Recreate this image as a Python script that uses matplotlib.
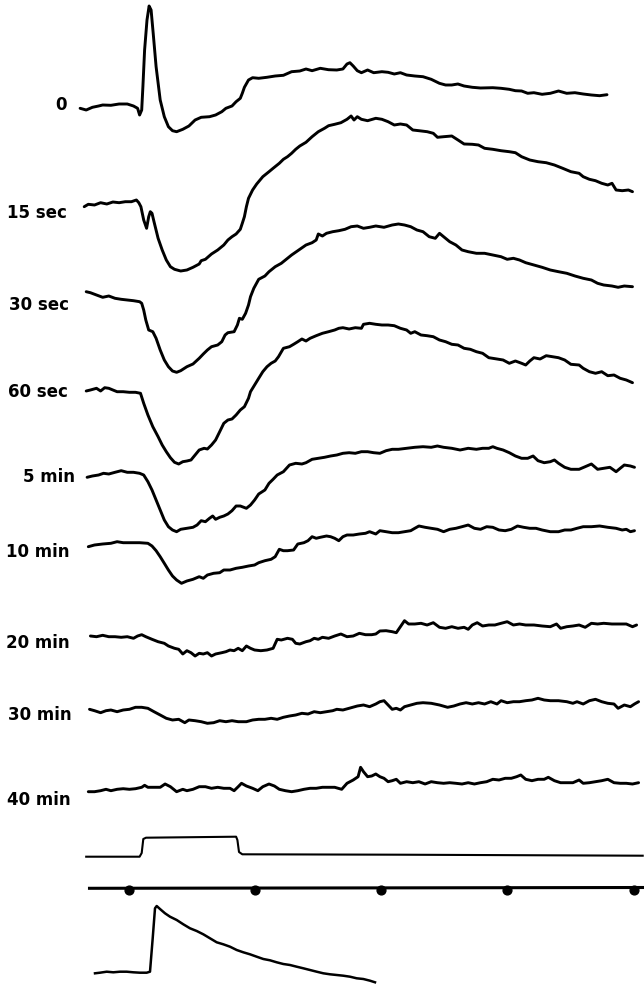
import numpy as np
import matplotlib
matplotlib.use('Agg')
import matplotlib.pyplot as plt

plt.rcParams.update({'font.size': 12})

# traces, x = time position, y = pen position (image px, down is +)
x_0 = [80.1, 86.2, 92.4, 98.6, 102.7, 110.9, 119.1, 127.3, 133.5, 137.6, 139.6, 141.7, 142.9, 144.6, 147, 149.1, 151.1,
       153.2, 156.1, 160.2, 164.3, 168.4, 172.5, 176.6, 182.8, 188.9, 195.1, 201.2, 209.5, 215.6, 221.8, 225.9, 232,
       236.1, 240.3, 242.3, 244.4, 248.5, 252.6, 258.7, 266.9, 275.2, 283.4, 291.6, 299.8, 306, 312.1, 320.3, 328.5,
       336.8, 342.9, 347, 349.9, 353.2, 357.3, 361.4, 367.6, 373.7, 381.9, 388.1, 394.3, 400.4, 406.6, 414.8, 423,
       431.2, 439.4, 445.6, 451.7, 457.9, 464.1, 472.3, 480.5, 492.8, 501, 509.2, 515.4, 521.6, 527.7, 533.9, 542.1,
       550.3, 558.5, 566.7, 574.9, 583.2, 591.4, 599.6, 607]
y_0 = [108.3, 110, 107.3, 106, 105, 105.3, 104, 104, 106, 108.3, 115, 110, 86.7, 50, 20, 6, 10,
       33.3, 66.7, 100, 116.7, 126.7, 130.7, 131.7, 129.3, 126, 120, 117.3, 116.7, 115, 111.7, 108.3, 106,
       101.7, 98.3, 93.3, 87.3, 80, 77.7, 78.3, 77.3, 76, 75.3, 71.7, 71, 69, 70.7, 68.3, 69.7,
       70, 69, 64, 62.7, 66, 70.7, 72.7, 70, 72.7, 71.7, 72.3, 74, 72.7, 75, 76, 76.7,
       79.3, 83.3, 85, 85, 84, 86, 87.3, 88, 87.7, 88.3, 89.3, 90.7, 91, 93.3, 92.7, 94.3,
       93.3, 91, 93.3, 92.7, 94, 95, 95.7, 94.7]

x_15s = [84.2, 88.3, 94.5, 100.6, 106.8, 112.9, 119.1, 125.3, 131.4, 136.4, 138.8, 140.9, 143.7, 146.6, 148.7, 150.3,
         152, 154, 158.1, 162.2, 166.3, 170.4, 174.5, 180.7, 186.9, 193, 199.2, 201.2, 205.4, 211.5, 217.7, 223.8,
         227.9, 232, 236.1, 240.3, 242.3, 244.4, 246.4, 248.5, 252.6, 256.7, 262.8, 269, 273.1, 279.3, 283.4, 287.5,
         291.6, 295.7, 299.8, 306, 312.1, 318.3, 324.5, 328.6, 334.7, 340.9, 347, 351.1, 354, 357.3, 361.4, 367.6,
         375.8, 381.9, 388.1, 394.3, 400.4, 406.6, 412.8, 418.9, 427.2, 433.3, 437.5, 443.7, 451.8, 458, 464.1, 472.3,
         478.5, 484.6, 492.8, 501, 509.3, 515.4, 521.6, 529.8, 538, 546.2, 554.4, 562.7, 570.9, 579.1, 583.2, 589.4,
         595.5, 601.7, 607.8, 612, 616.1, 622.2, 628.4, 632.5]
y_15s = [206.7, 204.3, 205, 202.7, 204, 202, 202.7, 201.7, 201.7, 200, 202.7, 206.7, 220, 228.3, 216.7, 211.7,
         213.3, 221.7, 238.3, 250, 260, 266.7, 269.3, 271, 270, 267.3, 264, 260.7, 259.3, 254, 250, 245,
         240, 236.7, 234, 229.3, 223.3, 216.7, 206.7, 198.3, 190, 184, 176.7, 171.7, 168.3, 163.3, 159.3, 156.7,
         153.3, 149.3, 146, 142.3, 136.7, 131.7, 128.3, 125.7, 124.3, 122.7, 119.3, 116, 120, 116.7, 119.3, 120.7,
         118.3, 119.3, 121.7, 125, 124, 125, 130, 130.7, 131.7, 133.3, 137.3, 136.7, 136, 140, 144, 144.3,
         145, 148.3, 149.3, 150.7, 151.7, 152.7, 156.7, 160, 161.7, 162.7, 165, 168.3, 171.7, 173.3, 176.7, 179.3,
         180.7, 183.3, 185, 183.3, 190, 190.7, 190, 191.7]

x_30s = [86.2, 90.4, 96.5, 102.7, 108.8, 115, 121.2, 127.3, 133.5, 139.6, 141.7, 143.7, 145.8, 148.7, 152.8, 156.1,
         160.2, 164.3, 168.4, 172.5, 176.6, 180.7, 186.9, 193, 199.2, 203.3, 207.4, 211.5, 217.7, 221.8, 225.1, 227.9,
         234.1, 237.4, 239.4, 242.3, 245.6, 248.5, 250.5, 253.8, 258.7, 264.9, 269, 275.2, 281.3, 285.4, 291.6, 297.8,
         306, 312.1, 316.2, 318.3, 322.4, 326.5, 332.7, 338.8, 345, 351.1, 357.3, 363.5, 369.6, 375.8, 384, 392.2,
         398.4, 404.5, 410.7, 416.9, 423, 429.2, 435.3, 439.5, 443.6, 449.7, 455.9, 462, 468.2, 476.4, 484.6, 492.8,
         501, 507.2, 513.4, 519.5, 525.7, 533.9, 542.1, 550.3, 558.5, 566.8, 575, 583.2, 591.4, 597.6, 603.7, 611.9,
         618.1, 624.3, 632.5]
y_30s = [291.7, 292.7, 295, 297.3, 296, 298.3, 299.3, 300, 300.7, 301.7, 303.3, 310, 320, 330, 331.7, 338.3,
         350, 360, 366.7, 371, 372.3, 370.7, 366.7, 364, 358.3, 354, 350, 346.7, 345, 341.7, 335, 332.7,
         331.7, 325, 318.3, 319.3, 313.3, 305, 296.7, 288.3, 279.3, 276, 271.7, 266.7, 263.3, 260, 255, 250.7,
         245, 242.7, 240, 234, 236, 233.3, 231.7, 230.7, 229.3, 226.7, 226, 228.3, 227.3, 226, 227.3, 225,
         224, 225, 226.7, 230, 231.7, 236.7, 238.3, 233.3, 236.7, 241.7, 245, 250, 251.7, 253.3, 253.3, 255,
         256.7, 259.3, 258.3, 260, 262.7, 265, 267.3, 270, 271.7, 273.3, 276, 278.3, 280, 283.3, 285, 286,
         287.3, 286, 286.7]

x_60s = [86.2, 90.4, 96.5, 100.6, 104.7, 108.8, 112.9, 117.1, 123.2, 129.4, 135.5, 140.5, 143.7, 147.9, 152.8, 158.1,
         162.2, 166.3, 170.4, 174.5, 178.7, 182.8, 186.9, 191, 195.1, 199.2, 204.1, 207.4, 211.5, 215.6, 219.7, 223.8,
         227.9, 232, 236.1, 240.3, 244.4, 248.5, 250.5, 254.6, 258.7, 262.8, 267, 271.1, 275.2, 278.5, 283.4, 289.5,
         293.6, 297.8, 301.9, 306, 310.1, 316.2, 322.4, 328.6, 334.7, 338.8, 342.9, 349.1, 355.3, 361.4, 363.5, 369.6,
         375.8, 381.9, 388.1, 394.3, 400.4, 406.6, 410.7, 414.8, 421, 427.1, 433.3, 439.5, 445.6, 451.8, 458, 464.1,
         470.3, 476.4, 482.6, 488.8, 497, 503.1, 509.3, 515.4, 521.6, 525.7, 529.8, 533.9, 540.1, 546.2, 552.4, 558.5,
         564.7, 570.9, 579.1, 583.2, 589.4, 595.5, 601.7, 607.8, 614, 620.2, 626.3, 632.5]
y_60s = [391, 390, 388.3, 391, 387.7, 388.3, 390, 391.7, 391.7, 392.3, 392.3, 393.3, 403.3, 415, 426.7, 436.7,
         445, 451.7, 457.7, 462.3, 464, 461.7, 461, 460, 455, 450, 448.3, 449, 445, 440, 431.7, 423.3,
         420, 419, 415, 410, 406.7, 398.3, 391.7, 385, 378.3, 371.7, 366.7, 363.3, 361, 356.7, 348.3, 346.7,
         344.3, 341.7, 339, 341, 338.3, 335.7, 333.3, 331.7, 330, 328.3, 327.7, 329, 327.7, 328.3, 324.3, 323.3,
         324.3, 325, 325, 325.7, 328.3, 330, 333.3, 331.7, 335, 335.7, 336.7, 340, 341.7, 344.3, 345, 348.3,
         349.3, 351.7, 353.3, 357.7, 359, 360, 363.3, 361, 363.3, 365, 361, 357.7, 359, 355.7, 356.7, 357.7,
         360, 364.3, 365, 368.3, 371.7, 373.3, 371.7, 375.7, 375, 378.3, 380, 382.7]

x_5m = [87.1, 92.4, 98.6, 103.5, 108.8, 115, 121.2, 127.3, 133.5, 139.6, 143.7, 147.9, 152, 156.1, 160.2, 164.3,
        168.4, 172.5, 176.6, 180.7, 186.9, 193, 197.1, 201.2, 205.4, 209.5, 212.7, 215.6, 219.7, 223.8, 227.9, 232,
        236.1, 240.3, 246.4, 250.5, 254.6, 258.7, 264.9, 269, 273.1, 277.2, 283.4, 289.5, 295.7, 301.9, 306, 312.1,
        318.3, 324.5, 330.6, 336.8, 342.9, 349.1, 355.3, 361.4, 367.6, 373.7, 379.9, 386.1, 392.2, 398.4, 406.6, 414.8,
        423, 431.2, 437.4, 443.6, 451.8, 460.1, 468.2, 476.4, 482.6, 488.8, 492.8, 496.9, 503.1, 509.3, 515.4, 521.6,
        527.7, 533.1, 538, 544.2, 550.3, 554.4, 558.5, 564.7, 570.9, 579.1, 585.2, 591.4, 597.6, 603.7, 609.9, 616.1,
        620.2, 624.3, 630.4, 634.5]
y_5m = [477.3, 476, 475, 473.3, 474, 472.3, 470.7, 472.3, 472.3, 473.3, 475, 481.7, 490, 500, 510, 520,
        526.7, 530, 531.7, 529.3, 528.3, 527.3, 525, 520.7, 521.7, 518.3, 516, 519.3, 517.3, 516, 514, 510.7,
        506, 506, 508.3, 505, 500, 494, 490, 483.3, 479.3, 475, 471.7, 465, 463.3, 464, 462.7, 459.3,
        458.3, 457.3, 456, 455, 453.3, 452.7, 453.3, 451.7, 451.7, 452.7, 453.3, 450.7, 449.3, 449.3, 448.3, 447.3,
        446.7, 447.3, 446, 447.3, 448.3, 450, 448.3, 449.3, 448.3, 448.3, 446.7, 448.3, 450, 452.7, 456, 458.3,
        458.3, 456, 460.7, 462.7, 461.7, 460, 463.3, 467.3, 469.3, 469.3, 466.7, 464, 469.3, 468.3, 467.3, 471.7,
        468.3, 465, 466, 467.3]

x_10m = [88.3, 94.5, 102.7, 110.9, 117.1, 123.2, 131.4, 139.6, 147.9, 152, 156.1, 160.2, 164.3, 168.4, 172.5, 176.6,
         181.5, 186.9, 193, 199.2, 203.3, 207.4, 213.6, 219.7, 223.8, 230, 236.1, 242.3, 248.5, 254.6, 258.7, 264.9,
         271.1, 275.2, 279.3, 283.4, 287.5, 293.6, 297.8, 303.9, 308, 312.1, 316.2, 320.3, 326.5, 330.6, 334.7, 338.8,
         342.9, 347, 353.2, 359.4, 365.5, 369.6, 375.8, 379.9, 386.1, 392.2, 398.4, 404.5, 410.7, 414.8, 418.9, 425.1,
         431.2, 437.5, 443.6, 449.7, 455.9, 462, 468.2, 474.4, 480.5, 486.7, 492.8, 499, 505.2, 511.3, 517.5, 523.6,
         529.8, 536, 542.1, 550.3, 558.5, 564.7, 570.9, 577, 583.2, 591.4, 599.6, 607.8, 616.1, 622.2, 626.3, 630.4,
         634.5]
y_10m = [546.7, 545, 544, 543.3, 541.7, 542.7, 542.7, 542.7, 543.3, 546, 550.7, 556.7, 563.3, 570, 576, 580,
         583.3, 581, 579.3, 576.7, 578.3, 575, 573.3, 572.7, 570, 570, 568.3, 567.3, 566, 565, 562.7, 560.7,
         559.3, 556.7, 549.3, 550.7, 550.7, 550, 544, 542.7, 540.7, 536.7, 538.3, 537.3, 536, 536.7, 538.3, 540.7,
         536.7, 535, 535, 534, 533.3, 531.7, 534, 530.7, 531.7, 532.7, 532.7, 531.7, 530.7, 528.3, 526, 527.3,
         528.3, 529.3, 531.7, 529.3, 528.3, 526.7, 525, 528.3, 529.3, 526.7, 527.3, 530, 530.7, 529.3, 526, 527.3,
         528.3, 528.3, 530, 531.7, 531.7, 530, 530, 528.3, 526.7, 526.7, 526, 527.3, 528.3, 530, 529.3, 531.7,
         530.7]

x_20m = [90.4, 96.5, 102.7, 108.8, 115, 121.2, 127.3, 133.5, 137.6, 141.7, 145.8, 152, 158.1, 164.3, 168.4, 174.5,
         178.7, 182.8, 186.9, 191, 195.1, 199.2, 203.3, 207.4, 211.5, 215.6, 221.8, 225.9, 230, 234.1, 238.2, 242.3,
         246.4, 250.5, 254.6, 260.8, 267, 273.1, 277.2, 281.3, 287.5, 292.4, 295.7, 299.8, 306, 310.1, 314.2, 318.3,
         322.4, 328.6, 334.7, 340.9, 347, 353.2, 359.4, 365.5, 371.7, 375.8, 379.9, 386.1, 392.2, 396.3, 400.4, 404.5,
         408.6, 414.8, 421, 427.1, 433.3, 439.5, 445.6, 451.8, 458, 464.1, 468.2, 472.3, 477.2, 482.6, 488.8, 494.9,
         501.1, 507.2, 513.4, 519.5, 525.7, 533.9, 542.1, 550.3, 556.5, 560.6, 566.8, 572.9, 579.1, 585.2, 591.4, 597.6,
         603.7, 611.9, 620.2, 626.3, 632.5, 636.6]
y_20m = [636, 636.7, 635.3, 636.7, 636.7, 637.3, 636.7, 638.3, 636, 634.7, 636.7, 639.3, 641.7, 643.3, 646, 648.3,
         649.3, 654, 650.7, 652.7, 656, 653.3, 654, 652.7, 656, 654, 652.7, 651.7, 650, 650.7, 648.3, 650.7,
         646, 648.3, 650, 650.7, 650, 648.3, 639.3, 640, 638.3, 639.3, 643.3, 644, 641.7, 640.7, 638.3, 639.3,
         637.3, 638.3, 636, 634, 636.7, 636, 633.3, 634.7, 634.7, 634, 631, 630.7, 631.7, 632.7, 626.7, 620.7,
         624, 624, 623.3, 625, 622.7, 627.3, 628.3, 626.7, 628.3, 627.3, 629.3, 625, 622.7, 626, 625, 625,
         623.3, 621.7, 625, 624, 625, 625, 626, 626.7, 624, 628.3, 626.7, 626, 625, 627.3, 623.3, 624,
         623.3, 624, 624, 624, 626.7, 625]

x_30m = [89.5, 94.5, 100.6, 106, 110.9, 117.1, 123.2, 129.4, 135.5, 141.7, 147.9, 154, 160.2, 166.3, 172.5, 178.7,
         184.8, 188.9, 195.1, 201.2, 207.4, 213.6, 219.7, 225.9, 232, 238.2, 246.4, 252.6, 258.7, 264.9, 271.1, 277.2,
         283.4, 289.5, 295.7, 301.9, 308, 314.2, 320.3, 326.5, 332.7, 336.8, 342.9, 349.1, 357.3, 363.5, 369.6, 375.8,
         379.9, 384, 388.1, 392.2, 396.3, 400.4, 404.5, 410.7, 416.9, 423, 431.2, 439.5, 447.6, 453.8, 460, 466.1,
         472.3, 478.5, 484.6, 490.8, 497, 501.1, 507.2, 513.4, 519.5, 525.7, 531.9, 538, 544.2, 550.3, 558.5, 566.8,
         572.9, 577, 583.2, 589.4, 595.5, 601.7, 607.8, 614, 618.1, 624.3, 630.4, 634.5, 638.6]
y_30m = [709.3, 710.7, 712.7, 710.7, 710, 711.7, 710, 709.3, 707.3, 707.3, 708.3, 711.7, 715, 718.3, 720, 719.3,
         722.7, 720, 720.7, 721.7, 723.3, 722.7, 720.7, 721.7, 720.7, 721.7, 721.7, 720, 719.3, 719.3, 718.3, 719.3,
         717.3, 716, 715, 713.3, 714, 711.7, 712.7, 711.7, 710.7, 709.3, 710, 708.3, 706, 705, 706.7, 704,
         701.7, 700.7, 705, 709.3, 708.3, 710, 706.7, 705, 703.3, 702.7, 703.3, 705, 707.3, 706, 704, 702.7,
         704, 702.7, 704, 701.7, 704, 700.7, 702.7, 701.7, 701.7, 700.7, 700, 698.3, 700, 700.7, 700.7, 701.7,
         703.3, 701.7, 704, 700.7, 699.3, 701.7, 703.3, 704, 708.3, 705, 706.7, 704, 701.7]

x_40m = [88.3, 94.5, 100.6, 106, 110.9, 117.1, 123.2, 129.4, 135.5, 141.7, 144.6, 147.9, 154, 160.2, 165.1, 170.4,
         176.6, 182.8, 186.9, 193, 199.2, 205.4, 211.5, 217.7, 223.8, 230, 234.1, 238.2, 241.5, 246.4, 252.6, 257.9,
         262.8, 269, 274.4, 279.3, 285.4, 291.6, 297.8, 303.9, 310.1, 316.2, 322.4, 328.6, 334.7, 341.7, 347, 353.2,
         358.1, 360.6, 363.5, 367.6, 371.7, 375.8, 379.9, 384, 388.1, 392.2, 396.3, 400.4, 406.6, 412.8, 418.9, 425.1,
         431.2, 437.4, 443.6, 449.7, 455.9, 462, 468.2, 474.4, 480.5, 486.7, 492.8, 499, 505.2, 511.3, 516.6, 520.8,
         525.7, 531.9, 538, 544.2, 548.3, 554.4, 560.6, 566.8, 572.9, 579.1, 583.2, 589.4, 595.5, 601.7, 607.8, 614,
         620.2, 626.3, 632.5, 638.6]
y_40m = [791.7, 791.7, 790.7, 789.3, 790.7, 789.3, 788.7, 789.3, 788.7, 787.3, 785.3, 787.3, 787.3, 787.3, 784, 786.7,
         791.7, 789.3, 790.7, 789.3, 786.7, 786.7, 788.3, 787.3, 788.3, 788.3, 790.7, 786.7, 783.3, 786, 788.3, 790.7,
         786.7, 784, 786, 789.3, 790.7, 791.7, 790.7, 789.3, 788.3, 788.3, 787.3, 787.3, 787.3, 789.3, 783.3, 780,
         776.7, 767.3, 771.7, 776.7, 776, 774, 776.7, 778.3, 781.7, 780.7, 779.3, 783.3, 781.7, 782.7, 781.7, 784,
         781.7, 782.7, 783.3, 782.7, 783.3, 784, 782.7, 784, 782.7, 781.7, 779.3, 780, 778.3, 778.3, 776.7, 775,
         779.3, 780.7, 779.3, 779.3, 777.3, 780.7, 782.7, 782.7, 782.7, 780, 783.3, 782.7, 781.7, 780.7, 779.3, 782.7,
         783.3, 783.3, 784, 782.7]

# stimulus marker
x_stim = [86.2, 139.6, 141.7, 143.3, 146, 236.1, 237.4, 239, 242.3, 400, 642.7]
y_stim = [856.7, 856.7, 853, 839, 837.7, 836.7, 840, 852, 854.3, 854.7, 855.7]

# time marker line and its dots
x_time = [89.5, 642.7]
y_time = [888.3, 887.5]
x_dots = [129.4, 255.4, 381.1, 507.2, 634.5]
y_dots = [890, 890, 890, 890, 890]

# bottom calibration trace
x_cal = [95, 100, 106.7, 113.3, 120, 126.7, 133.3, 140, 146.7, 150, 152.7, 155, 156.7, 160, 165, 170,
         176.7, 183.3, 190, 196.7, 203.3, 210, 216.7, 223.3, 230, 236.7, 243.3, 250, 256.7, 263.3, 270, 276.7,
         283.3, 290, 296.7, 303.3, 310, 316.7, 323.3, 330, 336.7, 343.3, 350, 356.7, 363.3, 370, 375]
y_cal = [973.3, 972.7, 971.7, 972.3, 971.7, 971.7, 972.3, 972.7, 972.7, 971.7, 938.3, 908.3, 906, 909, 913.3, 916.7,
         920, 924.3, 928.3, 931, 934.3, 938.3, 942.3, 944.3, 946.7, 950, 952.3, 954.3, 956.7, 959, 960.3, 962.3,
         964, 965, 966.7, 968.3, 970, 971.7, 973.3, 974.3, 975, 975.7, 976.7, 978.3, 979, 980.7, 982.3]

labels = ['0', '15 sec', '30 sec', '60 sec', '5 min', '10 min', '20 min', '30 min', '40 min']
label_x = [55, 7, 9, 8, 23, 6, 6, 8, 7]
label_y = [105, 213, 305, 392, 477, 552, 643, 715, 800]

traces = [(x_0, y_0), (x_15s, y_15s), (x_30s, y_30s), (x_60s, y_60s), (x_5m, y_5m),
          (x_10m, y_10m), (x_20m, y_20m), (x_30m, y_30m), (x_40m, y_40m)]

fig = plt.figure(figsize=(6.44, 9.84), dpi=100)
ax = fig.add_axes([0, 0, 1, 1])

for xs, ys in traces:
    ax.plot(xs, ys, color='black', linewidth=2.1, solid_joinstyle='round', solid_capstyle='round')

ax.plot(x_stim, y_stim, color='black', linewidth=1.5)
ax.plot(x_time, y_time, color='black', linewidth=2.2)
ax.scatter(x_dots, y_dots, s=40, marker='o', color='black', zorder=3)
ax.plot(x_cal, y_cal, color='black', linewidth=1.8)

for lab, lx, ly in zip(labels, label_x, label_y):
    ax.text(lx, ly, lab, fontsize=12, fontweight='bold', ha='left', va='center', color='black')

ax.set_xlim(0, 644)
ax.set_ylim(984, 0)
ax.axis('off')

fig.savefig('out.png', dpi=100, facecolor='white')
